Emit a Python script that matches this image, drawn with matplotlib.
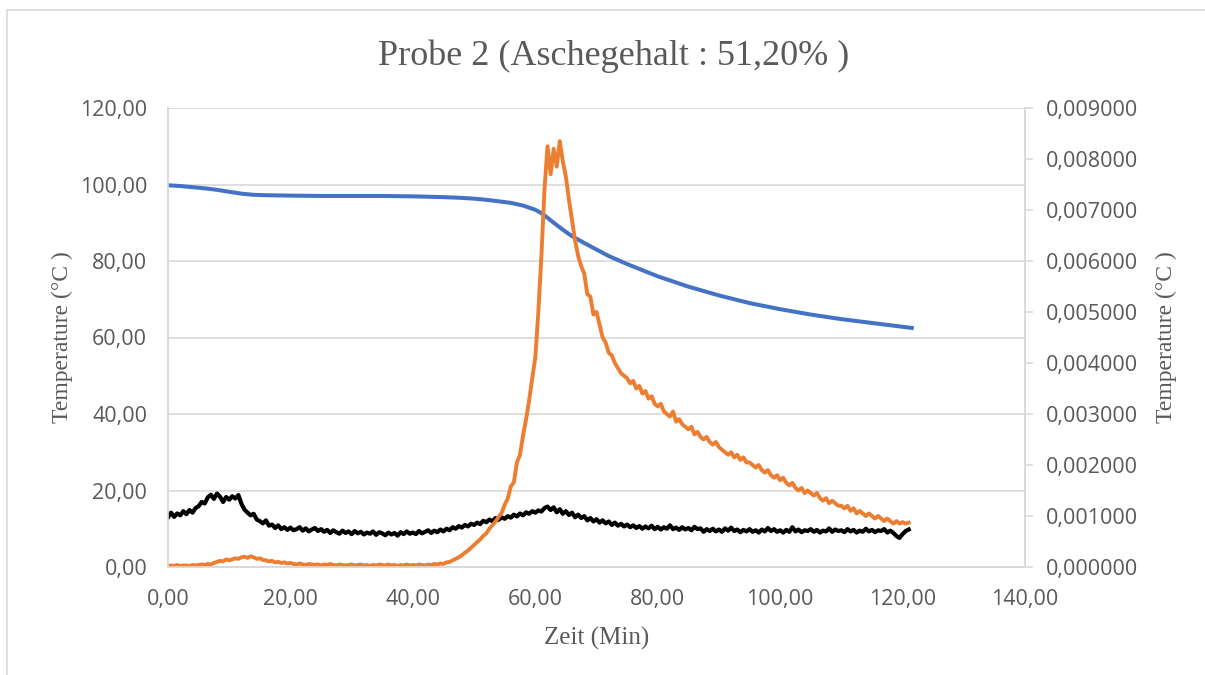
import numpy as np
import matplotlib
matplotlib.use("Agg")
import matplotlib.pyplot as plt
from matplotlib.patches import Rectangle

# Sample times (minutes), every half minute
t_min = np.arange(0, 121.5, 0.5)

# Blue curve (left axis), read at irregular times
blue_t = [0, 2, 4, 6, 8, 10, 12, 14, 16, 20, 25, 30, 35, 40, 45, 48, 50, 52,
          54, 56, 58, 60, 61, 62, 63, 64, 65, 66, 68, 70, 72, 75, 80, 85, 90,
          95, 100, 105, 110, 115, 121.5]
blue_val = [99.8, 99.6, 99.3, 99.0, 98.6, 98.1, 97.6, 97.3, 97.2, 97.1, 97.0,
            97.0, 97.0, 96.9, 96.7, 96.5, 96.3, 96.0, 95.6, 95.2, 94.5, 93.4,
            92.5, 91.3, 90.0, 88.8, 87.6, 86.5, 84.7, 83.0, 81.3, 79.2, 76.0,
            73.3, 71.0, 69.0, 67.4, 66.0, 64.8, 63.8, 62.5]

# Orange curve (right axis), in units of 1e-4
orange_e4 = [
    0.2, 0.3, 0.2, 0.4, 0.2, 0.3, 0.3, 0.2, 0.4, 0.3,
    0.4, 0.5, 0.4, 0.6, 0.5, 0.8, 1.0, 1.2, 1.1, 1.5,
    1.3, 1.5, 1.7, 1.6, 1.9, 2.0, 1.8, 2.1, 1.9, 1.6,
    1.7, 1.4, 1.3, 1.1, 1.2, 0.9, 1.0, 0.8, 0.9, 0.7,
    0.8, 0.6, 0.5, 0.7, 0.5, 0.4, 0.6, 0.5, 0.4, 0.5,
    0.3, 0.5, 0.4, 0.6, 0.4, 0.3, 0.5, 0.4, 0.3, 0.4,
    0.5, 0.3, 0.4, 0.5, 0.3, 0.4, 0.2, 0.4, 0.3, 0.5,
    0.4, 0.3, 0.5, 0.3, 0.4, 0.2, 0.4, 0.3, 0.5, 0.3,
    0.4, 0.3, 0.5, 0.4, 0.3, 0.5, 0.4, 0.6, 0.5, 0.7,
    0.6, 0.9, 1.0, 1.3, 1.6, 1.9, 2.3, 2.8, 3.2, 3.8,
    4.3, 4.9, 5.4, 6.1, 6.6, 7.5, 8.2, 8.9, 9.8, 10.6,
    12.2, 13.4, 15.8, 16.6, 20.5, 22.0, 25.8, 29.0, 32.7, 37.0,
    41.0, 50.0, 61.0, 74.0, 82.5, 77.0, 82.0, 78.5, 83.5, 79.5,
    76.5, 72.0, 68.0, 64.0, 61.0, 59.0, 57.5, 53.5, 53.0, 49.5,
    50.0, 47.5, 45.0, 44.0, 42.0, 41.5, 40.0, 39.0, 38.0, 37.5,
    37.0, 36.0, 36.5, 35.0, 35.5, 34.0, 34.5, 33.0, 33.5, 32.0,
    31.5, 32.0, 30.5, 30.0, 29.5, 30.5, 28.5, 29.0, 28.0, 27.5,
    27.0, 27.5, 26.0, 26.5, 25.5, 25.0, 25.5, 24.5, 24.0, 24.5,
    23.5, 23.0, 22.5, 22.0, 22.5, 21.5, 22.0, 21.0, 21.5, 20.5,
    20.5, 20.0, 19.5, 20.0, 19.0, 18.5, 19.0, 18.0, 17.5, 18.0,
    17.0, 17.5, 16.5, 16.0, 16.5, 15.5, 15.0, 15.5, 14.5, 15.0,
    14.5, 14.0, 14.5, 13.5, 13.0, 13.5, 12.5, 13.0, 12.5, 12.0,
    12.0, 11.5, 12.0, 11.0, 11.5, 10.5, 11.0, 10.5, 10.0, 10.5,
    10.0, 9.5, 10.0, 9.5, 9.0, 9.5, 9.0, 8.5, 9.0, 8.5,
    8.8, 8.5, 8.7,
]

# Black curve (left axis)
black_val = [
    13.0, 14.2, 13.1, 14.0, 13.5, 14.6, 13.8, 14.9, 14.2, 15.4,
    15.9, 17.0, 16.6, 18.2, 18.9, 17.8, 19.2, 18.4, 17.0, 18.3,
    17.6, 18.5, 17.9, 18.8, 16.5, 15.0, 14.2, 13.5, 13.9, 12.4,
    12.0, 11.4, 12.2, 10.8, 11.1, 10.2, 10.9, 9.9, 10.4, 9.7,
    10.3, 9.6, 9.9, 10.4, 9.5, 10.1, 9.3, 9.8, 10.2, 9.4,
    9.9, 9.2, 9.7, 8.9, 9.6, 9.1, 8.7, 9.5, 8.9, 9.3,
    8.6, 9.4, 8.8, 9.2, 8.5, 9.0, 8.7, 9.3, 8.4, 9.1,
    8.8, 8.3, 9.0, 8.5, 8.9, 8.2, 9.1, 8.6, 9.3, 8.7,
    9.0, 8.6, 9.4, 8.8, 9.2, 9.6, 8.9, 9.5, 9.1, 9.8,
    9.3, 10.0, 9.6, 10.4, 10.0, 10.7, 10.3, 11.0, 10.6, 11.3,
    11.0, 11.6, 11.2, 12.1, 11.7, 12.4, 12.0, 12.8, 12.3, 13.0,
    12.6, 13.3, 12.9, 13.7, 13.2, 14.0, 13.5, 14.3, 13.9, 14.6,
    14.2, 14.8, 14.5, 15.4, 15.8, 14.9, 15.6, 14.3, 15.1, 13.9,
    14.6, 13.6, 14.2, 13.0, 13.7, 12.8, 13.3, 12.2, 12.8, 11.9,
    12.5, 11.6, 12.2, 11.4, 11.9, 11.0, 11.6, 10.8, 11.3, 10.6,
    11.1, 10.4, 10.9, 10.2, 10.7, 10.0, 10.6, 10.1, 10.8, 9.9,
    10.5, 9.8, 10.4, 10.0, 10.9, 9.9, 10.3, 9.7, 10.4, 9.8,
    10.2, 9.6, 10.5, 9.9, 10.1, 9.2, 9.9, 9.4, 10.0, 9.3,
    9.8, 9.2, 10.1, 9.5, 10.3, 9.4, 9.8, 9.1, 9.7, 9.3,
    9.9, 9.2, 9.6, 9.0, 9.8, 9.3, 10.2, 9.4, 9.9, 9.2,
    9.6, 9.0, 9.7, 9.2, 10.4, 9.3, 9.8, 9.1, 9.6, 9.4,
    9.9, 9.2, 9.7, 9.0, 9.5, 9.3, 10.1, 9.2, 9.8, 9.4,
    9.6, 9.1, 9.9, 9.3, 9.7, 9.0, 9.5, 9.2, 10.0, 9.3,
    9.7, 9.1, 9.6, 9.4, 9.9, 9.0, 9.5, 8.9, 8.1, 7.6,
    8.6, 9.4, 9.8,
]

x_ticks = [0, 20, 40, 60, 80, 100, 120, 140]
left_ticks = [0, 20, 40, 60, 80, 100, 120]
right_ticks = [0.000, 0.001, 0.002, 0.003, 0.004, 0.005, 0.006, 0.007, 0.008, 0.009]

TXT = "#595959"
GRID = "#d9d9d9"
tick_font = "Open Sans"
serif = "Liberation Serif"

fig = plt.figure(figsize=(12.05, 6.75), dpi=100)
fig.patch.set_facecolor("white")

# Light chart border like the Excel chart frame
fig.patches.append(Rectangle((7 / 1205, -0.01), 1.0, 1 - 10 / 675 + 0.01,
                             transform=fig.transFigure, fill=False,
                             edgecolor="#d9d9d9", linewidth=1.2))

ax1 = fig.add_axes([168 / 1205, 1 - 567 / 675, (1025 - 168) / 1205, (567 - 108) / 675])
ax2 = ax1.twinx()

ax1.plot(blue_t, blue_val, color="#4472c4", linewidth=2.9, zorder=3)
ax1.plot(t_min, black_val, color="black", linewidth=3.0, zorder=4)
ax2.plot(t_min, np.array(orange_e4) * 1e-4, color="#ed7d31", linewidth=2.8)

ax1.set_xlim(0, 140)
ax1.set_ylim(0, 120)
ax2.set_ylim(0, 0.009)

ax1.set_xticks(x_ticks)
ax1.set_xticklabels([f"{v:.2f}".replace(".", ",") for v in x_ticks])
ax1.set_yticks(left_ticks)
ax1.set_yticklabels([f"{v:.2f}".replace(".", ",") for v in left_ticks])
ax2.set_yticks(right_ticks)
ax2.set_yticklabels([f"{v:.6f}".replace(".", ",") for v in right_ticks])

ax1.grid(axis="y", color=GRID, linewidth=1.2)
ax1.set_axisbelow(True)

for ax in (ax1, ax2):
    ax.spines["top"].set_visible(False)
    for side in ("left", "bottom", "right"):
        ax.spines[side].set_color(GRID)
        ax.spines[side].set_linewidth(1.2)

ax1.tick_params(axis="y", length=0, colors=TXT, labelsize=15.5, pad=15)
ax1.tick_params(axis="x", length=0, colors=TXT, labelsize=15.5, pad=16)
ax2.tick_params(axis="y", length=6, width=1.2, color=GRID, labelcolor=TXT,
                labelsize=15.5, pad=9)
for lab in ax1.get_xticklabels() + ax1.get_yticklabels() + ax2.get_yticklabels():
    lab.set_fontfamily(tick_font)

ax1.set_xlabel("Zeit (Min)", fontfamily=serif, fontsize=18, color=TXT, labelpad=12)
ax1.set_ylabel("Temperature (°C )", fontfamily=serif, fontsize=17, color=TXT, labelpad=5)
ax2.set_ylabel("Temperature (°C )", fontfamily=serif, fontsize=17, color=TXT, labelpad=13)

fig.text(614 / 1205, 1 - 56 / 675, "Probe 2 (Aschegehalt : 51,20% )",
         ha="center", va="center", fontfamily=serif, fontsize=26, color=TXT)

fig.savefig("out.png", dpi=100)
